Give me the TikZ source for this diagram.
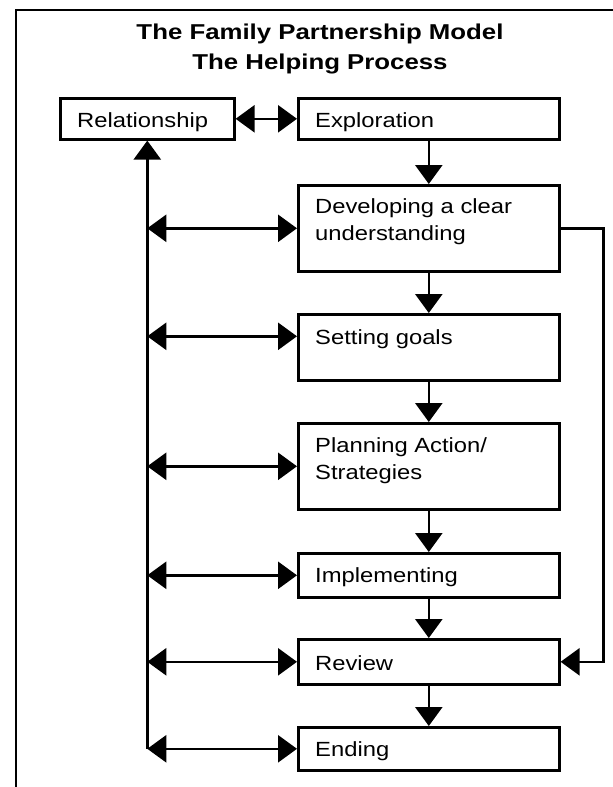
\documentclass[tikz,border=0pt]{standalone}
\usepackage{fontspec}
\setmainfont{Liberation Sans}[FakeStretch=1.16]
\newfontfamily\titlefont{Liberation Sans}[FakeStretch=1.2]
\usetikzlibrary{arrows.meta,calc}

\begin{document}
\begin{tikzpicture}[x=1pt,y=1pt,yscale=-1,
	stage/.style={draw, line width=2.6pt, anchor=north west, inner sep=0pt, minimum width=261pt},
	txt/.style={anchor=north west, inner sep=0pt, align=left, font=\fontsize{20.5}{27}\selectfont},
	tip/.style={line width=2.6pt, -{Triangle[length=19pt,width=27pt]}},
	dbl/.style={line width=2.6pt, {Triangle[length=19pt,width=27pt]}-{Triangle[length=19pt,width=27pt]}}]
	\useasboundingbox (0,0) rectangle (613,787);
	\draw[line width=2pt] (613,10) -- (16,10) -- (16,787);
	\node[anchor=north, inner sep=0pt, align=center, font=\titlefont\bfseries\fontsize{21.5}{30}\selectfont] (title) at (320,24) {The Family Partnership Model\\The Helping Process};
	\node[stage, minimum width=174pt, minimum height=41pt] (rel) at (59,97) {};
	\node[stage, minimum height=41pt] (expl) at (297,97) {};
	\node[stage, minimum height=86pt] (dev) at (297,184) {};
	\node[stage, minimum height=66pt] (goal) at (297,313) {};
	\node[stage, minimum height=86pt] (plan) at (297,422) {};
	\node[stage, minimum height=44pt] (impl) at (297,552) {};
	\node[stage, minimum height=45pt] (rev) at (297,638) {};
	\node[stage, minimum height=43pt] (endg) at (297,726) {};
	\node[txt] (rel-t) at ($(rel.north west)+(18,15.5)$) {Relationship};
	\node[txt] (expl-t) at ($(expl.north west)+(18,15.5)$) {Exploration};
	\node[txt] (dev-t) at ($(dev.north west)+(18,14.5)$) {Developing a clear\\understanding};
	\node[txt] (goal-t) at ($(goal.north west)+(18,16.5)$) {Setting goals};
	\node[txt] (plan-t) at ($(plan.north west)+(18,15)$) {Planning Action/\\Strategies};
	\node[txt] (impl-t) at ($(impl.north west)+(18,15)$) {Implementing};
	\node[txt] (rev-t) at ($(rev.north west)+(18,17)$) {Review};
	\node[txt] (endg-t) at ($(endg.north west)+(18,15)$) {Ending};
	\draw[dbl] (rel) -- (expl);
	\foreach \a/\b in {expl/dev,dev/goal,goal/plan,plan/impl,impl/rev,rev/endg}
		\draw[tip] (\a.south) -- (\b.north);
	\coordinate (spine) at (rel.south |- endg.west);
	\draw[tip] (spine) -- (rel.south);
	\foreach \n in {dev,plan,impl,rev,endg}
		\draw[dbl] (rel.south |- \n.west) -- (\n.west);
	\coordinate (goal-in) at ($(goal.west)+(0,-11)$);
	\draw[dbl] (rel.south |- goal-in) -- (goal-in);
	\draw[tip] (dev.east) -- ++(43,0) |- (rev.east);
\end{tikzpicture}
\end{document}
